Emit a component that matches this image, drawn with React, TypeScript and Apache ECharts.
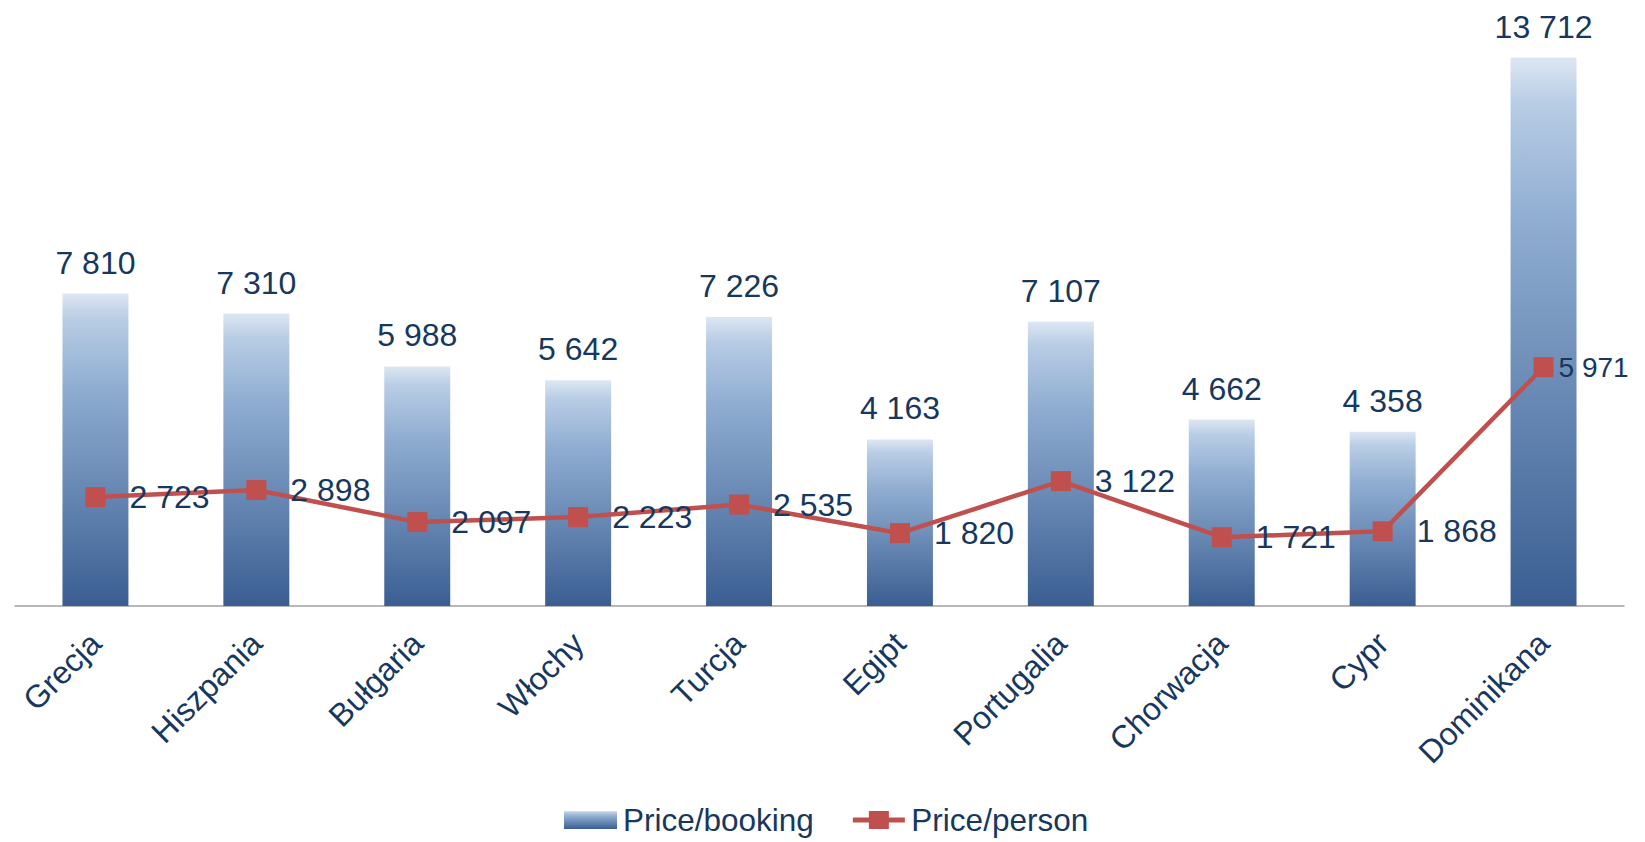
import React, { useEffect, useRef } from "react";
import * as echarts from "echarts";

const categories = ["Grecja", "Hiszpania", "Bułgaria", "Włochy", "Turcja", "Egipt", "Portugalia", "Chorwacja", "Cypr", "Dominikana"];
const pricePerBooking = [7810, 7310, 5988, 5642, 7226, 4163, 7107, 4662, 4358, 13712];
const pricePerPerson = [2723, 2898, 2097, 2223, 2535, 1820, 3122, 1721, 1868, 5971];
const seriesNames = ["Price/booking", "Price/person"];

const FONT = "'Liberation Sans', Arial, sans-serif";
const NAVY = "#17375E";

const fmt = (v: number) => String(v).replace(/\B(?=(\d{3})+(?!\d))/g, " ");

const lineLegendIcon =
  "path://M0,6.5 H16 V0 H36 V6.5 H52 V11.5 H36 V18 H16 V11.5 H0 Z";

export default function App() {
  const ref = useRef<HTMLDivElement>(null);
  useEffect(() => {
    if (!ref.current) return;
    const chart = echarts.init(ref.current, undefined, { renderer: "svg" });
    const barGradient = new echarts.graphic.LinearGradient(0, 0, 0, 1, [
      { offset: 0, color: "#DDE7F3" },
      { offset: 0.08, color: "#B9CDE5" },
      { offset: 0.3, color: "#8FADD1" },
      { offset: 1, color: "#3A5E92" },
    ]);
    const lastIdx = pricePerPerson.length - 1;
    chart.setOption({
      animation: false,
      textStyle: { fontFamily: FONT },
      grid: { left: 15, right: 21, top: 6, bottom: 236, containLabel: false },
      legend: {
        left: 559,
        top: 799,
        itemWidth: 53,
        itemHeight: 18,
        itemGap: 39,
        textStyle: { fontSize: 31.5, color: NAVY, fontFamily: FONT, padding: [0, 0, 0, 1] },
        data: [
          { name: seriesNames[0], icon: "rect" },
          { name: seriesNames[1], icon: lineLegendIcon, itemStyle: { color: "#C0504D" } },
        ],
      },
      xAxis: {
        type: "category",
        data: categories,
        axisLine: { lineStyle: { color: "#A0A0A0", width: 1.5 } },
        axisTick: { length: 10, lineStyle: { color: "#A0A0A0", width: 1.5 } },
        axisLabel: {
          rotate: 45,
          fontSize: 32,
          color: NAVY,
          fontFamily: FONT,
          margin: 32,
          interval: 0,
        },
      },
      yAxis: {
        type: "value",
        min: 0,
        max: 15000,
        show: false,
        splitLine: { show: false },
      },
      series: [
        {
          name: seriesNames[0],
          type: "bar",
          data: pricePerBooking,
          barWidth: "41%",
          itemStyle: { color: barGradient },
          label: {
            show: true,
            position: "top",
            distance: 15,
            fontSize: 32,
            color: NAVY,
            fontFamily: FONT,
            formatter: (p: any) => fmt(p.value),
          },
        },
        {
          name: seriesNames[1],
          type: "line",
          data: pricePerPerson.map((v, i) =>
            i === lastIdx ? { value: v, label: { distance: 5, fontSize: 28 } } : v
          ),
          symbol: "rect",
          symbolSize: 20,
          lineStyle: { color: "#C0504D", width: 4.5 },
          itemStyle: { color: "#C0504D" },
          z: 3,
          label: {
            show: true,
            position: "right",
            distance: 24,
            fontSize: 32,
            color: NAVY,
            fontFamily: FONT,
            formatter: (p: any) => fmt(p.value),
          },
        },
      ],
    });
    return () => chart.dispose();
  }, []);
  return (
    <div
      ref={ref}
      style={{ position: "fixed", left: 0, top: 0, width: 1645, height: 842, background: "#fff" }}
    />
  );
}
